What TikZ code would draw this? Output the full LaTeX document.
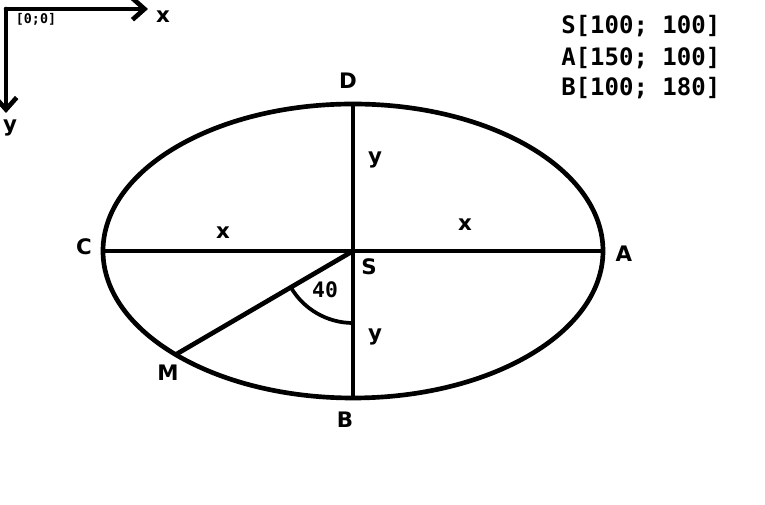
\documentclass[tikz,border=0pt]{standalone}
\usepackage{fontspec}
\setmainfont{DejaVu Sans}
\newfontfamily\monofnt{DejaVu Sans Mono}
\usetikzlibrary{arrows.meta,positioning}
\tikzset{figure line/.style={line width=3.5pt},
 axis line/.style={line width=3.5pt,line cap=round,-{Straight Barb[length=9pt,width=16pt]}},
 lbl/.style={font=\fontsize{16}{19}\selectfont\bfseries,inner sep=0pt},
 coordtext/.style={font=\monofnt\fontsize{18}{21}\selectfont\bfseries,anchor=west,inner sep=0pt}}

\begin{document}
\begin{tikzpicture}[x=0.75pt,y=-0.75pt]
\useasboundingbox (0,0) rectangle (765,505);
% axes
\coordinate (O) at (6,9);
\coordinate (Xend) at (148,9);
\coordinate (Yend) at (6,113);
\draw[axis line] (O) -- (Xend);
\draw[axis line] (O) -- (Yend);
\node[lbl] (xax) at (163,17) {x};
\node[lbl] (yax) at (10,128) {y};
\node[font=\monofnt\fontsize{10}{12}\selectfont\bfseries,inner sep=0pt] (orig) at (36,19) {[0;0]};

% coordinates of the points
\node[coordtext] (tS) at (561,26) {S[100; 100]};
\node[coordtext] (tA) at (561,58) {A[150; 100]};
\node[coordtext] (tB) at (561,88) {B[100; 180]};

% ellipse and axes of it
\coordinate (S) at (353,251);
\coordinate (Ap) at (603,251);
\coordinate (Cp) at (103,251);
\coordinate (Dp) at (353,104);
\coordinate (Bp) at (353,398);
\coordinate (Mp) at (175,355);
\draw[figure line] (S) ellipse [x radius=250,y radius=147];
\draw[figure line] (Cp) -- (Ap);
\draw[figure line] (Dp) -- (Bp);
\draw[figure line] (S) -- (Mp);
\draw[line width=2.8pt] (S) ++(149.7:72) arc [start angle=149.7,end angle=90,radius=72];

% labels
\node[lbl] (D) at (348,81) {D};
\node[lbl] (C) at (84,247) {C};
\node[lbl] (A) at (624,254) {A};
\node[lbl] (Sl) at (369,267) {S};
\node[lbl] (M) at (168,373) {M};
\node[lbl] (B) at (345,420) {B};
\node[lbl] (xl) at (223,233) {x};
\node[lbl] (xr) at (465,225) {x};
\node[lbl] (yu) at (375,160) {y};
\node[lbl] (yd) at (375,337) {y};
\node[font=\monofnt\fontsize{16}{19}\selectfont\bfseries,inner sep=0pt] (ang) at (325,290) {40};
\end{tikzpicture}
\end{document}
